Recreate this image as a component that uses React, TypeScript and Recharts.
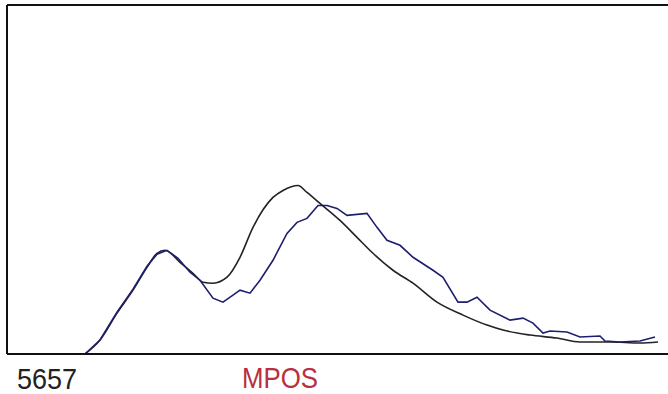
import { LineChart, Line, XAxis, YAxis, ReferenceLine } from "recharts"

// scan position vs. intensity
const smoothPos = [78, 93, 110, 126, 140, 150, 158, 173, 186, 196, 206, 220, 233, 246, 266, 276, 291, 300, 313, 333, 350, 366, 386, 406, 430, 456, 480, 496, 523, 550, 573, 603, 633, 651]
const smoothVal = [0, 14, 41, 64, 87, 101, 104, 92, 81, 72, 71, 77, 97, 127, 157, 164, 169, 162, 151, 134, 117, 101, 84, 71, 52, 39, 29, 24, 19, 16, 12, 12, 11, 12]

const jaggedPos = [78, 93, 110, 126, 140, 150, 160, 171, 183, 193, 206, 216, 226, 233, 243, 253, 266, 280, 290, 300, 311, 320, 330, 340, 360, 370, 380, 393, 406, 426, 436, 451, 460, 470, 483, 503, 516, 526, 536, 543, 560, 573, 593, 598, 613, 633, 648]
const jaggedVal = [0, 14, 42, 65, 88, 100, 104, 96, 82, 74, 56, 52, 59, 64, 61, 74, 94, 121, 132, 136, 149, 149, 146, 139, 141, 127, 114, 109, 97, 84, 77, 52, 52, 57, 44, 34, 36, 31, 21, 23, 22, 17, 18, 13, 12, 13, 17]

const startLabel = "5657"
const axisTitle = "MPOS"

const smoothData = smoothPos.map((pos, i) => ({ pos, val: smoothVal[i] }))
const jaggedData = jaggedPos.map((pos, i) => ({ pos, val: jaggedVal[i] }))

const font = "'Liberation Sans', Arial, sans-serif"

export default function App() {
  return (
    <div style={{ position: "absolute", left: 0, top: 0, width: 668, height: 394, background: "#fff" }}>
      <LineChart width={668} height={394} margin={{ top: 5, right: 0, left: 7, bottom: 0 }}>
        <ReferenceLine y={350} stroke="#111" strokeWidth={2} />
        <ReferenceLine x={0} stroke="#111" strokeWidth={2} />
        <XAxis
          type="number"
          dataKey="pos"
          domain={[0, 661]}
          ticks={[0]}
          height={40}
          tickLine={false}
          axisLine={{ stroke: "#111", strokeWidth: 2 }}
          tick={(props: any) => (
            <text x={props.x + 10} y={389} fill="#222" fontSize={30} fontFamily={font} textLength={60} lengthAdjust="spacingAndGlyphs">
              {startLabel}
            </text>
          )}
          label={{
            content: (props: any) => (
              <text x={props.viewBox.x + 235} y={388} fill="#b8303f" fontSize={30} fontFamily={font} textLength={76} lengthAdjust="spacingAndGlyphs">
                {axisTitle}
              </text>
            ),
          }}
        />
        <YAxis type="number" domain={[0, 350]} width={0} tick={false} tickLine={false} axisLine={false} />
        <Line data={smoothData} dataKey="val" type="monotone" stroke="#222228" strokeWidth={1.6} dot={false} isAnimationActive={false} />
        <Line data={jaggedData} dataKey="val" type="linear" stroke="#1e1e6e" strokeWidth={1.6} dot={false} isAnimationActive={false} />
      </LineChart>
    </div>
  )
}
